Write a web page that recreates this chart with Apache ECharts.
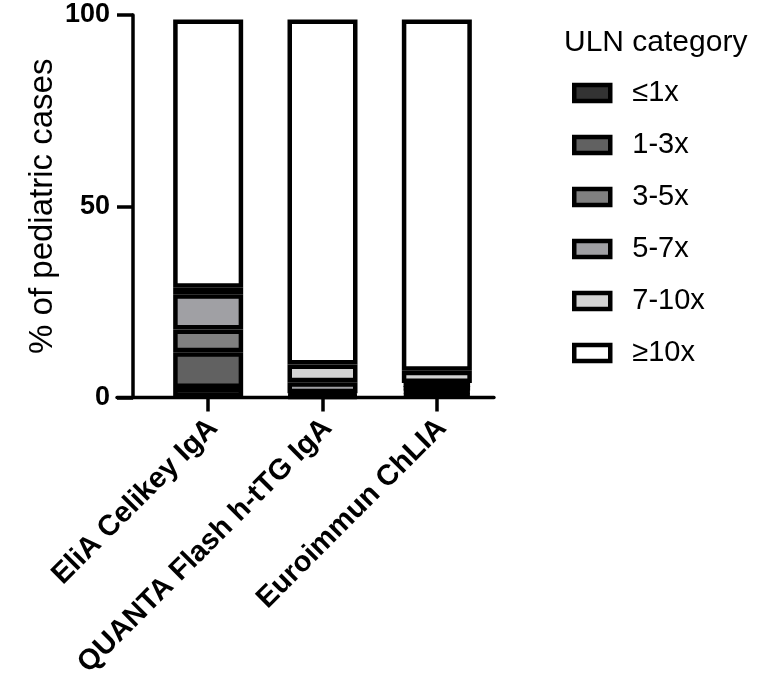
<!DOCTYPE html>
<html><head><meta charset="utf-8">
<script src="https://cdn.jsdelivr.net/npm/echarts@6/dist/echarts.min.js"></script>
<style>html,body{margin:0;padding:0;background:#fff}#c{width:767px;height:684px}</style>
</head><body><div id="c"></div>
<script>
// ---- data ----
const categories = ['EliA Celikey IgA', 'QUANTA Flash h-tTG IgA', 'Euroimmun ChLIA'];
const ulnCategories = ['≤1x', '1-3x', '3-5x', '5-7x', '7-10x', '≥10x'];
const le1x   = [2.5, 0.3, 1.0];
const x1to3  = [9.3, 0.4, 1.0];
const x3to5  = [6.0, 0.4, 0.9];
const x5to7  = [9.2, 2.9, 0.9];
const x7to10 = [1.7, 4.6, 3.2];
const ge10x  = [70.1, 90.2, 91.8];
const yTicks = [0, 50, 100];
const fills = ['#333333', '#616161', '#808080', '#a0a0a4', '#d3d3d3', '#ffffff'];
// ---------------

const seriesValues = [le1x, x1to3, x3to5, x5to7, x7to10, ge10x];
const FONT = 'Liberation Sans, Arial, sans-serif';

const chart = echarts.init(document.getElementById('c'), null, {renderer: 'canvas'});
const option = {
  animation: false,
  backgroundColor: '#fff',
  title: {
    text: 'ULN category',
    left: 564, top: 28, padding: 0,
    textStyle: {fontFamily: FONT, fontSize: 30, fontWeight: 'normal', color: '#000', lineHeight: 30}
  },
  legend: {
    orient: 'vertical',
    left: 572, top: 78.5, padding: 0,
    itemWidth: 36, itemHeight: 16, itemGap: 23.0,
    icon: 'rect',
    itemStyle: {borderColor: '#000', borderWidth: 4.5},
    textStyle: {fontFamily: FONT, fontSize: 29, color: '#000', padding: [0, 0, 0, 17]},
    selectedMode: false,
    data: ulnCategories
  },
  grid: [
    {left: 151, right: 273, top: 15, bottom: 286.5, containLabel: false},
    {left: 117, right: 273, top: 15, bottom: 286.5, containLabel: false}
  ],
  xAxis: [
    {
      type: 'category', gridIndex: 0, data: categories, boundaryGap: true,
      axisLine: {show: false},
      axisTick: {show: true, alignWithLabel: true, length: 14, lineStyle: {color: '#000', width: 3.5}},
      axisLabel: {rotate: 45, margin: 31, interval: 0, padding: [0, -7, 0, 0], fontFamily: FONT, fontSize: 29, fontWeight: 'bold', color: '#000'},
      splitLine: {show: false}
    },
    {
      type: 'value', gridIndex: 1, min: 0, max: 1,
      axisLine: {show: true, onZero: false, lineStyle: {color: '#000', width: 3.4}},
      axisTick: {show: false}, axisLabel: {show: false}, splitLine: {show: false}
    }
  ],
  yAxis: [
    {
      type: 'value', gridIndex: 0,
      min: yTicks[0], max: yTicks[yTicks.length - 1], interval: yTicks[1] - yTicks[0],
      offset: 18,
      name: '% of pediatric cases', nameLocation: 'middle', nameGap: 74, nameRotate: 90,
      nameTextStyle: {fontFamily: FONT, fontSize: 33, color: '#000'},
      axisLine: {show: true, lineStyle: {color: '#000', width: 3.5}},
      axisTick: {show: true, length: 16, lineStyle: {color: '#000', width: 3.5}},
      axisLabel: {margin: 23, fontFamily: FONT, fontSize: 27, fontWeight: 'bold', color: '#000'},
      splitLine: {show: false}
    },
    {type: 'value', gridIndex: 1, min: 0, max: 1, show: false}
  ],
  series: ulnCategories.map((name, i) => ({
    type: 'bar', name: name, stack: 'total',
    xAxisIndex: 0, yAxisIndex: 0,
    barWidth: 70,
    data: seriesValues[i],
    itemStyle: {color: fills[i], borderColor: '#000', borderWidth: 4.5},
    emphasis: {disabled: true}
  }))
};
chart.setOption(option);
</script>
</body></html>
